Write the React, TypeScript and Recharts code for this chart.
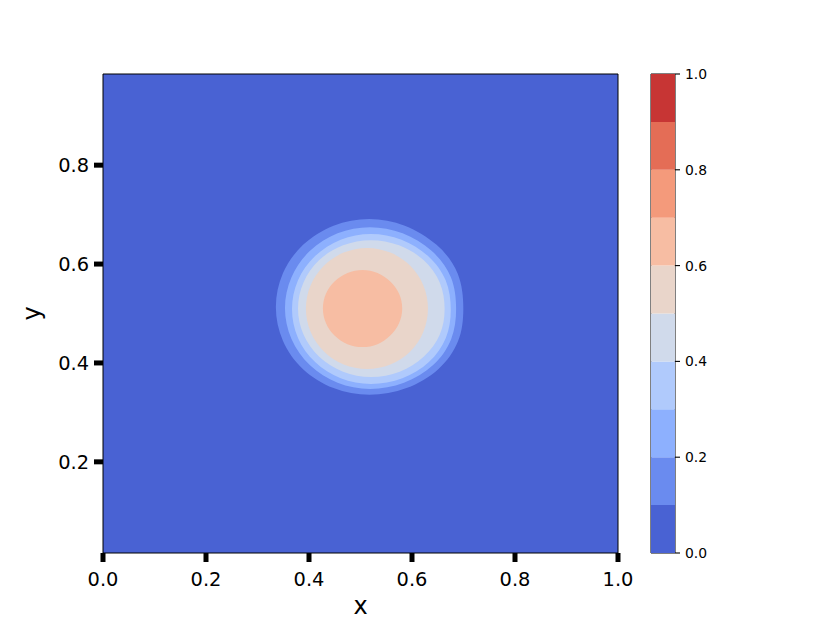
import { ScatterChart, Scatter, XAxis, YAxis, CartesianGrid, ReferenceArea, BarChart, Bar } from "recharts";

const FONT = "'DejaVu Sans', sans-serif";

// contour levels and the coolwarm colour of each band between them
const levels = [0, 0.1, 0.2, 0.3, 0.4, 0.5, 0.6, 0.7, 0.8, 0.9, 1.0];
const bandColors = [
  "#4962d3", "#6a8bef", "#8db0fe", "#b0cafc", "#d0daeb",
  "#e9d5ca", "#f7bda3", "#f49a7b", "#e46d56", "#c73534",
];

const xTicks = [0, 0.2, 0.4, 0.6, 0.8, 1.0];
const yTicks = [0.2, 0.4, 0.6, 0.8];
const cbTicks = [0, 0.2, 0.4, 0.6, 0.8, 1.0];
const yMin = 0.015625;
const yMax = 0.984375;

// closed contour outlines as [x, y]
const contour01: [number, number][] = [
  [0.702, 0.509], [0.695, 0.583], [0.651, 0.642], [0.587, 0.682],
  [0.517, 0.696], [0.446, 0.682], [0.385, 0.642], [0.345, 0.583],
  [0.331, 0.513], [0.345, 0.443], [0.385, 0.384], [0.446, 0.345],
  [0.517, 0.331], [0.591, 0.345], [0.655, 0.384], [0.695, 0.443],
];
const contour02: [number, number][] = [
  [0.688, 0.509], [0.681, 0.575], [0.641, 0.630], [0.583, 0.666],
  [0.518, 0.679], [0.454, 0.666], [0.399, 0.630], [0.362, 0.575],
  [0.349, 0.511], [0.362, 0.447], [0.399, 0.392], [0.454, 0.356],
  [0.518, 0.343], [0.586, 0.356], [0.644, 0.392], [0.681, 0.447],
];
const contour03: [number, number][] = [
  [0.678, 0.507], [0.670, 0.569], [0.634, 0.619], [0.581, 0.653],
  [0.520, 0.665], [0.460, 0.653], [0.409, 0.619], [0.375, 0.569],
  [0.363, 0.509], [0.375, 0.449], [0.409, 0.399], [0.460, 0.365],
  [0.520, 0.354], [0.583, 0.365], [0.636, 0.399], [0.670, 0.449],
];
const contour04: [number, number][] = [
  [0.666, 0.509], [0.658, 0.564], [0.625, 0.611], [0.576, 0.641],
  [0.520, 0.652], [0.465, 0.641], [0.417, 0.611], [0.386, 0.564],
  [0.375, 0.510], [0.386, 0.456], [0.417, 0.410], [0.465, 0.379],
  [0.520, 0.368], [0.578, 0.379], [0.625, 0.410], [0.658, 0.456],
];
const contour05: [number, number][] = [
  [0.634, 0.510], [0.625, 0.558], [0.599, 0.599], [0.559, 0.626],
  [0.513, 0.636], [0.466, 0.626], [0.427, 0.599], [0.400, 0.558],
  [0.391, 0.510], [0.400, 0.462], [0.427, 0.421], [0.466, 0.394],
  [0.513, 0.385], [0.559, 0.394], [0.599, 0.421], [0.625, 0.462],
];
const contour06: [number, number][] = [
  [0.583, 0.510], [0.577, 0.541], [0.559, 0.566], [0.534, 0.584],
  [0.504, 0.590], [0.474, 0.584], [0.448, 0.566], [0.431, 0.541],
  [0.425, 0.510], [0.431, 0.480], [0.448, 0.454], [0.474, 0.436],
  [0.504, 0.430], [0.534, 0.436], [0.559, 0.454], [0.577, 0.480],
];

const contours = [contour01, contour02, contour03, contour04, contour05, contour06];

// one stacked column per colour band for the colorbar
const cbRow: Record<string, number | string> = { name: "cb" };
bandColors.forEach((_, i) => {
  cbRow[`b${i}`] = levels[i + 1] - levels[i];
});

const fmt = (v: number) => v.toFixed(1);

export default function App() {
  return (
    <div style={{ position: "absolute", left: 0, top: 0, width: 830, height: 623, background: "#fff" }}>
      <div style={{ position: "absolute", left: 0, top: 0 }}>
        <ScatterChart width={830} height={623} margin={{ top: 74, right: 212, bottom: 30, left: 43 }}>
          <CartesianGrid horizontal={false} vertical={false} fill={bandColors[0]} stroke="none" />
          <XAxis
            type="number"
            dataKey="x"
            domain={[0, 1]}
            ticks={xTicks}
            interval={0}
            allowDataOverflow
            tickFormatter={fmt}
            height={40}
            tickSize={9}
            tickMargin={10}
            axisLine={false}
            tickLine={{ stroke: "#000", strokeWidth: 5 }}
            tick={{ fill: "#000", fontSize: 19.4, fontFamily: FONT }}
            label={{ value: "x", position: "bottom", offset: 4, fill: "#000", fontSize: 24, fontFamily: FONT }}
          />
          <YAxis
            type="number"
            dataKey="y"
            domain={[yMin, yMax]}
            ticks={yTicks}
            interval={0}
            allowDataOverflow
            tickFormatter={fmt}
            width={60}
            tickSize={9}
            tickMargin={5}
            axisLine={false}
            tickLine={{ stroke: "#000", strokeWidth: 5 }}
            tick={{ fill: "#000", fontSize: 19.4, fontFamily: FONT }}
            label={{ value: "y", angle: -90, position: "insideLeft", offset: -12, textAnchor: "middle", fill: "#000", fontSize: 24, fontFamily: FONT }}
          />
          {contours.map((pts, i) => (
            <Scatter
              key={i}
              data={pts.map(([x, y]) => ({ x, y }))}
              fill={bandColors[i + 1]}
              line={{ fill: bandColors[i + 1], stroke: "none" }}
              lineJointType="basisClosed"
              shape={() => <g />}
              isAnimationActive={false}
            />
          ))}
          <ReferenceArea x1={0} x2={1} y1={yMin} y2={yMax} fill="none" stroke="#000" strokeWidth={1} />
        </ScatterChart>
      </div>
      <div style={{ position: "absolute", left: 640, top: 0 }}>
        <BarChart width={120} height={623} data={[cbRow]} margin={{ top: 74, right: 40, bottom: 70, left: 11 }} barCategoryGap={0}>
          <XAxis dataKey="name" hide />
          <YAxis
            orientation="right"
            type="number"
            domain={[0, 1]}
            ticks={cbTicks}
            interval={0}
            allowDataOverflow
            tickFormatter={fmt}
            width={45}
            tickSize={5}
            tickMargin={5}
            axisLine={false}
            tickLine={{ stroke: "#000", strokeWidth: 1.1 }}
            tick={{ fill: "#000", fontSize: 13.9, fontFamily: FONT }}
          />
          {bandColors.map((c, i) => (
            <Bar key={i} dataKey={`b${i}`} stackId="cb" fill={c} isAnimationActive={false} />
          ))}
          <ReferenceArea y1={0} y2={1} fill="none" stroke="#000" strokeWidth={1} />
        </BarChart>
      </div>
    </div>
  );
}
